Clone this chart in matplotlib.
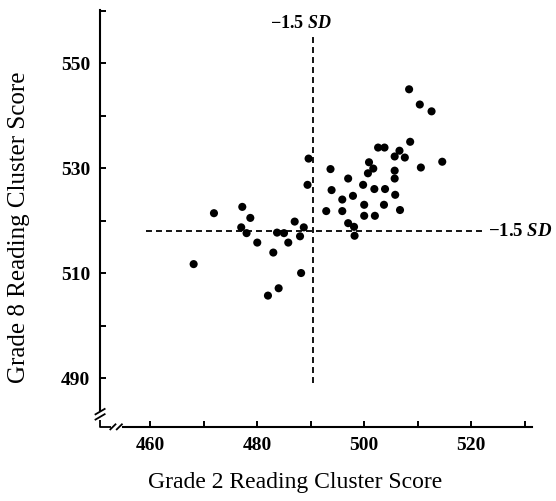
import matplotlib
matplotlib.use("Agg")
import matplotlib.pyplot as plt

# Grade 2 vs Grade 8 reading cluster scores
grade2 = [468.1, 471.9, 477.2, 478.7, 477.0, 478.0, 480.0, 483.0, 483.7, 485.0,
          485.8, 487.0, 488.7, 488.0, 488.2, 484.0, 482.0, 489.6, 489.4,
          492.9, 495.9, 493.7, 493.9, 495.9, 497.0, 497.9, 497.0, 498.1, 498.2,
          499.8, 500.0, 500.0, 502.0, 501.9, 503.9, 503.7, 500.9, 501.7, 500.7,
          502.6, 503.8, 505.7, 506.6, 507.6, 505.7, 505.7, 505.8, 506.7, 508.6,
          510.6, 514.6, 508.4, 510.4, 512.6]
grade8 = [511.7, 521.4, 522.6, 520.5, 518.7, 517.6, 515.8, 513.9, 517.7, 517.6,
          515.8, 519.8, 518.7, 517.0, 510.0, 507.1, 505.7, 531.8, 526.8,
          521.8, 521.8, 529.8, 525.8, 524.0, 528.0, 524.7, 519.5, 518.8, 517.1,
          526.8, 523.0, 520.9, 520.9, 526.0, 526.0, 523.0, 531.1, 529.9, 529.0,
          533.9, 533.9, 532.2, 533.3, 532.0, 529.5, 528.0, 524.9, 522.0, 535.0,
          530.1, 531.2, 545.0, 542.1, 540.8]

cut_x = 490.5   # -1.5 SD on grade 2
cut_y = 518.0   # -1.5 SD on grade 8

x_ticks = list(range(460, 531, 10))
x_labels = ["460", "", "480", "", "500", "", "520", ""]
y_ticks = list(range(490, 561, 10))
y_labels = ["490", "", "510", "", "530", "", "550", ""]

plt.rcParams["font.family"] = ["Liberation Serif", "DejaVu Serif"]
plt.rcParams["mathtext.fontset"] = "custom"
plt.rcParams["mathtext.rm"] = "Liberation Serif:bold"
plt.rcParams["mathtext.it"] = "Liberation Serif:italic:bold"
plt.rcParams["lines.scale_dashes"] = False

fig = plt.figure(figsize=(5.56, 5.01), dpi=100)
ax = fig.add_axes([0.180, 0.148, 0.776, 0.832])

ax.scatter(grade2, grade8, s=34, color="black", edgecolors="none", zorder=3)

# cut-off lines
dash = (4.3, 2.9)
ax.plot([cut_x, cut_x], [489.0, 555.3], color="black", lw=1.3, dashes=dash)
ax.plot([459.1, 522.2], [cut_y, cut_y], color="black", lw=1.3, dashes=dash)
sd_label = "\u22121.5 $\\mathit{SD}$"
ax.text(cut_x - 2.3, 557.6, sd_label, ha="center", va="center",
        fontsize=13, fontweight="bold")
ax.text(523.2, cut_y, sd_label, ha="left", va="center",
        fontsize=13.5, fontweight="bold")

ax.set_xlim(450.6, 531.3)
ax.set_ylim(480.7, 560.1)
ax.set_xticks(x_ticks)
ax.set_xticklabels(x_labels)
ax.set_yticks(y_ticks)
ax.set_yticklabels(y_labels)
ax.tick_params(direction="in", length=4.5, width=1.4, labelsize=14, pad=7)
for lab in ax.get_xticklabels() + ax.get_yticklabels():
    lab.set_fontweight("bold")

for side in ("top", "right"):
    ax.spines[side].set_visible(False)
ax.spines["left"].set_linewidth(1.5)
ax.spines["bottom"].set_linewidth(1.5)
ax.spines["left"].set_bounds(483.9, 560.1)
ax.spines["bottom"].set_bounds(454.8, 531.3)

# axis break marks at the corner
kw = dict(color="black", lw=1.3, clip_on=False, solid_capstyle="butt")
ax.plot([450.6, 450.6, 452.6], [482.1, 480.7, 480.7], **kw)
for yb in (483.6, 482.6):
    ax.plot([449.6, 451.6], [yb - 0.6, yb + 0.6], **kw)
for xb in (453.0, 454.2):
    ax.plot([xb - 0.6, xb + 0.6], [480.1, 481.3], **kw)

ax.set_xlabel("Grade 2 Reading Cluster Score", fontsize=17)
ax.set_ylabel("Grade 8 Reading Cluster Score", fontsize=18)
ax.xaxis.set_label_coords(0.452, -0.108)
ax.yaxis.set_label_coords(-0.163, 0.48)

fig.savefig("out.png", dpi=100)
